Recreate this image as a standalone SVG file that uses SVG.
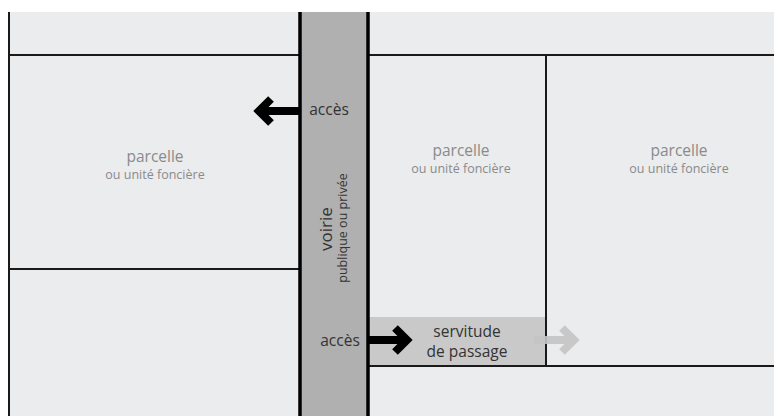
<svg xmlns="http://www.w3.org/2000/svg" width="774" height="416" viewBox="0 0 774 416">
<style>
.ln{stroke:#1a1a1a;stroke-width:2;fill:none}
.road{stroke:#000;stroke-width:3.5}
.t1{font-family:"Open Sans","DejaVu Sans",sans-serif;fill:#8a8a8a;text-anchor:middle}
.t2{font-family:"Open Sans","DejaVu Sans",sans-serif;fill:#333;text-anchor:middle}
.ar{fill:none;stroke-width:8;stroke-linejoin:miter;stroke-linecap:butt}
</style>
<rect x="0" y="0" width="774" height="416" fill="#fff"/>
<rect x="9" y="12" width="765" height="404" fill="#ebeced"/>
<g id="servitude">
<rect x="368" y="317" width="178" height="49" fill="#c9c9c9"/>
<text class="t2" x="467" y="337" font-size="15.5">servitude</text>
<text class="t2" x="467" y="357" font-size="15.5">de passage</text>
</g>
<g id="lines">
<line class="ln" x1="9" y1="12" x2="9" y2="416"/>
<line class="ln" x1="9" y1="55" x2="300" y2="55"/>
<line class="ln" x1="368" y1="55" x2="774" y2="55"/>
<line class="ln" x1="9" y1="269" x2="300" y2="269"/>
<line class="ln" x1="546" y1="55" x2="546" y2="366"/>
<line class="ln" x1="368" y1="366" x2="774" y2="366"/>
</g>
<g id="voirie">
<rect x="300" y="12" width="68" height="404" fill="#b0b0b0"/>
<line class="road" x1="300" y1="12" x2="300" y2="416"/>
<line class="road" x1="368" y1="12" x2="368" y2="416"/>
<text class="t2" transform="translate(332 229) rotate(-90)" font-size="17">voirie</text>
<text class="t2" transform="translate(347 228) rotate(-90)" font-size="12.5">publique ou privée</text>
<text class="t2" x="329" y="115" font-size="15.5">accès</text>
<text class="t2" x="340" y="346" font-size="15.5">accès</text>
</g>
<g id="p1"><text class="t1" x="155" y="162" font-size="15.5">parcelle</text><text class="t1" x="155" y="179" font-size="12.5">ou unité foncière</text></g>
<g id="p2"><text class="t1" x="461" y="156" font-size="15.5">parcelle</text><text class="t1" x="461" y="173" font-size="12.5">ou unité foncière</text></g>
<g id="p3"><text class="t1" x="679" y="156" font-size="15.5">parcelle</text><text class="t1" x="679" y="173" font-size="12.5">ou unité foncière</text></g>
<g id="connectors">
<path class="ar" stroke="#000" d="M300 111H261M271 99L259 111L271 123"/>
<path class="ar" stroke="#000" d="M368 340H406M395 328L407 340L395 352"/>
<path class="ar" stroke="#c4c4c4" opacity="0.9" d="M534 340H573M562 328L574 340L562 352"/>
</g>
</svg>
